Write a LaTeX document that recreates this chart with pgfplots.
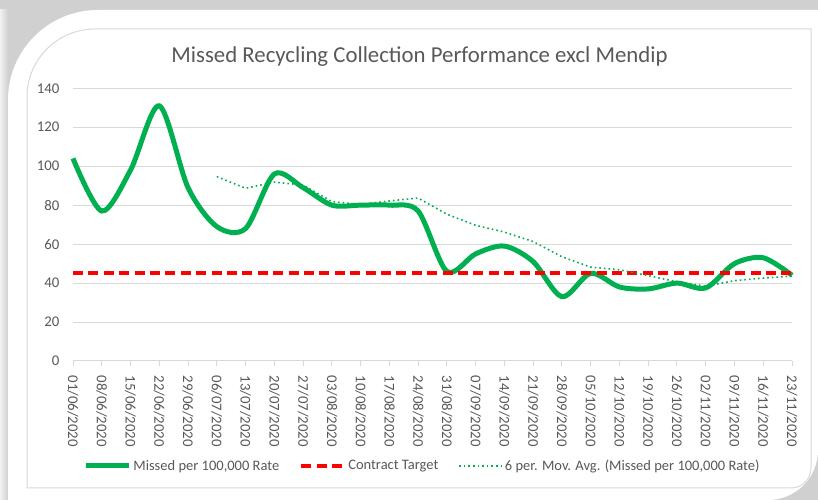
\documentclass[border=0pt]{standalone}
\usepackage{fontspec}
\setmainfont{Carlito}
\usepackage{pgfplots}
\pgfplotsset{compat=1.18}
\definecolor{excgreen}{HTML}{00B050}
\definecolor{txtgray}{HTML}{595959}
\definecolor{gridgray}{HTML}{D9D9D9}
\definecolor{bggray}{HTML}{D0D0D0}
\begin{document}
\begin{tikzpicture}[x=1bp,y=1bp]
\fill[bggray] (0,0) rectangle (818,500);
\shade[left color=white!70!bggray, right color=bggray] (0,0) rectangle (8,490);
\fill[white] (8,0) -- (8,400) arc[start angle=180,end angle=90,radius=90] -- (818,490) -- (818,50) arc[start angle=0,end angle=-90,radius=50] -- cycle;
\draw[gridgray, line width=1bp] (27,12) -- (27,403) arc[start angle=180,end angle=90,radius=68] -- (811,471) -- (811,32) arc[start angle=0,end angle=-90,radius=20] -- cycle;
\node[txtgray, font=\fontsize{22.8bp}{26bp}\selectfont] at (419.5,443) {Missed Recycling Collection Performance excl Mendip};
\begin{axis}[
  at={(73bp,139bp)}, anchor=south west,
  scale only axis, width=719bp, height=272.7bp,
  xmin=0, xmax=25, ymin=0, ymax=140,
  enlargelimits=false, clip=false,
  axis lines*=left,
  y axis line style={draw=none},
  x axis line style={draw=gridgray, line width=1bp},
  ytick={0,20,...,140},
  xtick={0,...,25},
  xticklabels={01/06/2020,08/06/2020,15/06/2020,22/06/2020,29/06/2020,06/07/2020,13/07/2020,20/07/2020,27/07/2020,03/08/2020,10/08/2020,17/08/2020,24/08/2020,31/08/2020,07/09/2020,14/09/2020,21/09/2020,28/09/2020,05/10/2020,12/10/2020,19/10/2020,26/10/2020,02/11/2020,09/11/2020,16/11/2020,23/11/2020},
  xtick align=outside,
  major tick length=5bp,
  xtick style={draw=gridgray, line width=1bp},
  ytick style={draw=none},
  ymajorgrids, grid style={draw=gridgray, line width=1bp},
  /pgf/number format/assume math mode=true,
  tick label style={font=\fontsize{14.8bp}{17bp}\selectfont, text=txtgray},
  xticklabel style={rotate=-90, anchor=west},
  xticklabel shift=6bp,
  yticklabel style={xshift=-10bp},
  legend style={at={(0.486,-0.385)}, anchor=center, draw=none, fill=none,
    legend columns=3, font=\fontsize{14.5bp}{17bp}\selectfont, text=txtgray,
    /tikz/every even column/.append style={column sep=18bp}},
  legend image code/.code={\draw[#1] (0bp,0bp) -- (43bp,0bp);},
]
\addplot[excgreen, line width=5bp, smooth] coordinates {
(0,104) (1,77) (2,98) (3,131) (4,89) (5,69) (6,68) (7,96) (8,89) (9,80)
(10,80) (11,80) (12,77) (13,46) (14,55) (15,59) (16,51) (17,33) (18,45)
(19,38) (20,37) (21,40) (22,37.5) (23,50) (24,53) (25,44)};
\addlegendentry{Missed per 100,000 Rate}
\addplot[red, line width=4bp, dash pattern=on 10bp off 5.4bp] coordinates {(0,45) (25,45)};
\addlegendentry{Contract Target}
\addplot[excgreen, line width=1.6bp, dash pattern=on 1.6bp off 3bp] coordinates {
(5,94.67) (6,88.67) (7,91.83) (8,90.33) (9,81.83) (10,80.33) (11,82.17)
(12,83.67) (13,75.33) (14,69.67) (15,66.17) (16,61.33) (17,53.5) (18,48.17)
(19,46.83) (20,43.83) (21,40.67) (22,38.42) (23,41.25) (24,42.58) (25,43.58)};
\addlegendentry{6 per. Mov. Avg. (Missed per 100,000 Rate)}
\end{axis}
\end{tikzpicture}
\end{document}
